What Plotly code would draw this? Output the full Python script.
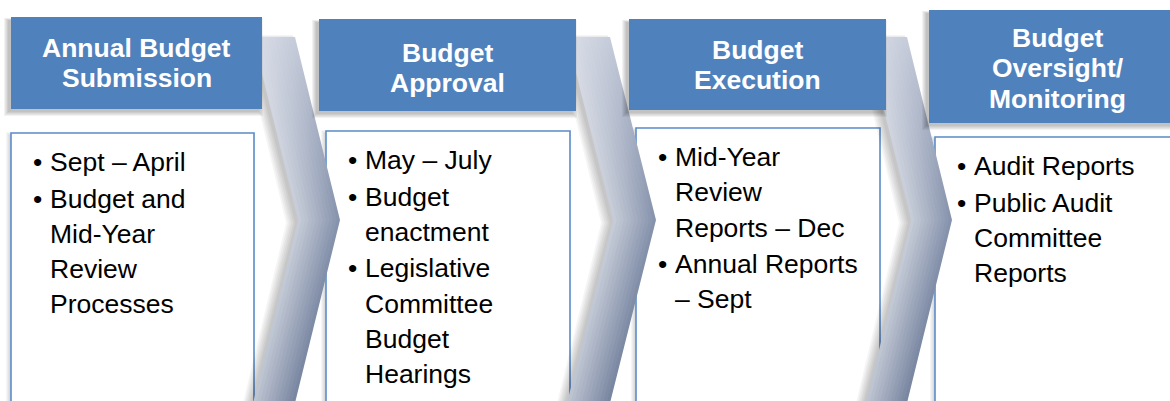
import plotly.graph_objects as go

W, H = 1170, 401

# ---- content ----
titles = [
    ["Annual Budget", "Submission"],
    ["Budget", "Approval"],
    ["Budget", "Execution"],
    ["Budget", "Oversight/", "Monitoring"],
]
bullets = [
    [["Sept – April"], ["Budget and", "Mid-Year", "Review", "Processes"]],
    [["May – July"], ["Budget", "enactment"], ["Legislative", "Committee", "Budget", "Hearings"]],
    [["Mid-Year", "Review", "Reports – Dec"], ["Annual Reports", "– Sept"]],
    [["Audit Reports"], ["Public Audit", "Committee", "Reports"]],
]

# ---- layout geometry (pixels) ----
head_x0 = [11, 319, 629, 929]
head_x1 = [262, 576, 886, 1186]
head_y0 = [17, 19, 19, 10]
head_y1 = [109, 111, 110, 123]
title_y = [48, 53, 50, 38]
title_dy = 30.4
box_x0 = [11, 326, 636, 935]
box_x1 = [254, 570, 880, 1185]
box_y0 = [133, 131, 128, 137]
box_bottom = 412
chev_xl = [253, 567, 866]
chev_w = [42, 43, 41]
chev_d = [45, 46, 45]
chev_y = (37, 220, 403)

BLUE = "#4F81BD"
BORDER = "#5B8CC8"
FONT = "Liberation Sans, Arial, sans-serif"
FS = 26.5


def hex2rgb(h):
    h = h.lstrip("#")
    return tuple(int(h[i:i + 2], 16) for i in (0, 2, 4))


def mix(c1, c2, t):
    a, b = hex2rgb(c1), hex2rgb(c2)
    return "rgb(%d,%d,%d)" % tuple(round(a[i] + (b[i] - a[i]) * t) for i in range(3))


fig = go.Figure()
shapes = []
annotations = []

# white boxes (with soft shadow)
for i in range(4):
    for k in range(4):
        shapes.append(dict(type="rect", layer="below", x0=box_x0[i] - 2 - k, x1=box_x1[i] - 2 + k,
                           y0=box_y0[i] + 2 - k, y1=box_bottom + k,
                           fillcolor="rgba(0,0,0,0.035)", line=dict(width=0)))
    shapes.append(dict(type="rect", layer="below", x0=box_x0[i], x1=box_x1[i],
                       y0=box_y0[i], y1=box_bottom, fillcolor="white",
                       line=dict(color=BORDER, width=1.6)))

# chevrons: shadow + banded gradient body
N = 12
y0, ym, y1 = chev_y
for c in range(3):
    xl, w, d = chev_xl[c], chev_w[c], chev_d[c]
    for k in range(6):
        ox, oy, g = -3 - k * 0.8, 3, k
        xs = [xl + ox - g, xl + w + ox + g, xl + w + d + ox + g, xl + w + ox + g, xl + ox - g, xl + d + ox - g, xl + ox - g]
        ys = [y0 + oy - g, y0 + oy - g, ym + oy, y1 + oy + g, y1 + oy + g, ym + oy, y0 + oy - g]
        fig.add_trace(go.Scatter(x=xs, y=ys, mode="lines", fill="toself",
                                 fillcolor="rgba(0,0,0,0.04)", line=dict(width=0),
                                 hoverinfo="skip", showlegend=False))
    for s in range(N):
        a = w * s / N
        b = w * (s + 1) / N + (0.6 if s < N - 1 else 0)
        t = (s + 0.5) / N
        top = mix("#DADEE8", "#C6CCDA", t)
        mid = mix("#C8CED9", "#8390AA", t)
        bot = mix("#BFC6D3", "#76839E", t)
        xs = [xl + a, xl + b, xl + b + d, xl + b, xl + a, xl + a + d, xl + a]
        ys = [y0, y0, ym, y1, y1, ym, y0]
        fig.add_trace(go.Scatter(
            x=xs, y=ys, mode="lines", fill="toself", line=dict(width=0),
            fillgradient=dict(type="vertical", start=y0, stop=y1,
                              colorscale=[[0, top], [0.5, mid], [1, bot]]),
            hoverinfo="skip", showlegend=False))

# headers (with soft shadow)
for i in range(4):
    for k in range(5):
        shapes.append(dict(type="rect", layer="above", x0=head_x0[i] - 3 - k, x1=head_x1[i] - 3 + k,
                           y0=head_y0[i] + 3 - k * 0.5, y1=head_y1[i] + 3 + k,
                           fillcolor="rgba(0,0,0,0.05)", line=dict(width=0)))
    shapes.append(dict(type="rect", layer="above", x0=head_x0[i], x1=head_x1[i],
                       y0=head_y0[i], y1=head_y1[i], fillcolor=BLUE, line=dict(width=0)))
    cx = (head_x0[i] + head_x1[i]) / 2
    for j, line in enumerate(titles[i]):
        annotations.append(dict(x=cx, y=title_y[i] + j * title_dy, text=line, showarrow=False,
                                xanchor="center", yanchor="middle",
                                font=dict(family=FONT, size=FS, color="white", weight="bold")))

# body bullets
LINE = 35.3
GAP = 1.2
for i in range(4):
    y = box_y0[i] + 29
    for bl in bullets[i]:
        annotations.append(dict(x=box_x0[i] + 26, y=y, text="•", showarrow=False,
                                xanchor="center", yanchor="middle",
                                font=dict(family=FONT, size=FS, color="black")))
        for line in bl:
            annotations.append(dict(x=box_x0[i] + 37, y=y, text=line, showarrow=False,
                                    xanchor="left", yanchor="middle",
                                    font=dict(family=FONT, size=FS, color="black")))
            y += LINE
        y += GAP

fig.update_layout(
    width=W, height=H, margin=dict(l=0, r=0, t=0, b=0),
    paper_bgcolor="white", plot_bgcolor="white",
    xaxis=dict(range=[0, W], visible=False, fixedrange=True),
    yaxis=dict(range=[H, 0], visible=False, fixedrange=True),
    shapes=shapes, annotations=annotations, showlegend=False,
)
fig.write_html("out.html", config=dict(displayModeBar=False),
               post_script="document.body.style.margin='0';document.body.style.overflow='hidden';")
